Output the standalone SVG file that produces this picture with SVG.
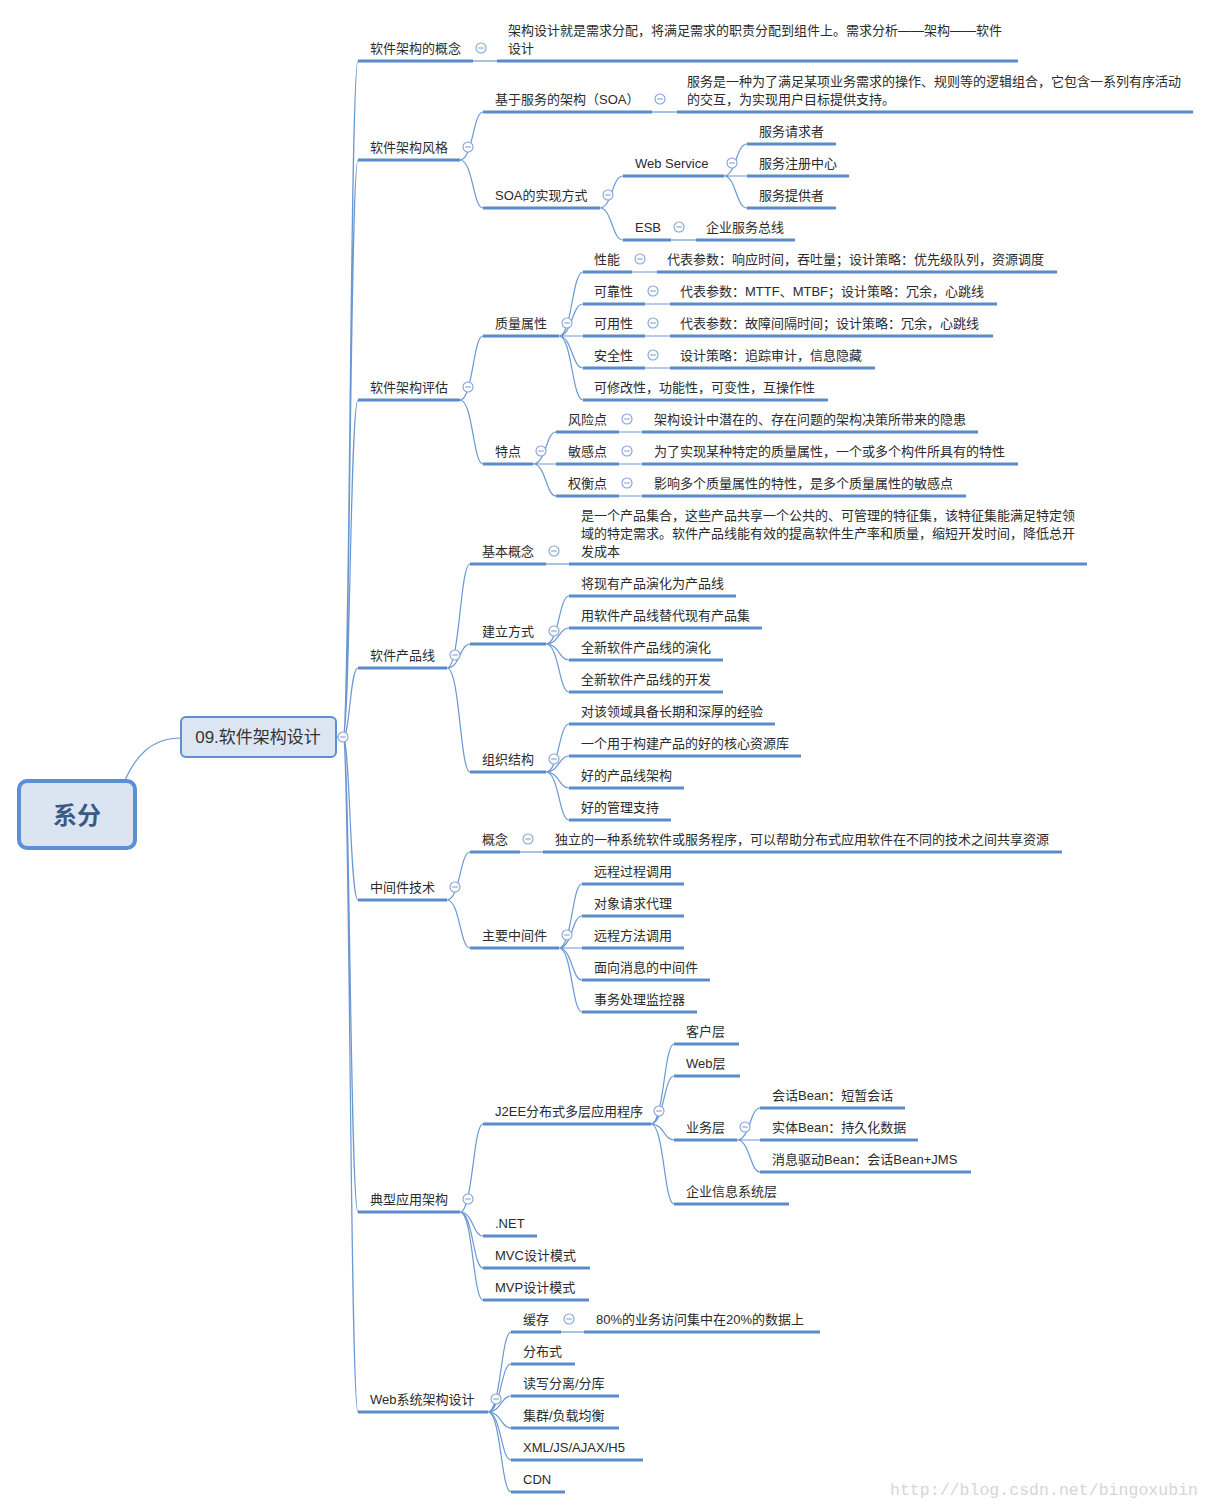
<svg xmlns="http://www.w3.org/2000/svg" xmlns:xlink="http://www.w3.org/1999/xlink" width="1211" height="1509" viewBox="0 0 1211 1509">
<defs>
<style>
.t{font-family:"Liberation Sans","Noto Sans CJK SC",sans-serif;font-size:13px;fill:#2b2b2b}
.u{stroke:#5b8bcb;stroke-width:3;fill:none}
.c{stroke:#6b98d3;stroke-width:1.2;fill:none}
.tg circle{fill:#fff;stroke:#7ea2d8;stroke-width:1.1}
.tg line{stroke:#7ea2d8;stroke-width:1.1}
</style>
<g id="tog" class="tg"><circle cx="0" cy="0" r="5"/><line x1="-2.8" y1="0" x2="2.8" y2="0"/></g>
</defs>
<rect width="1211" height="1509" fill="#fff"/>

<g id="connectors">
<path class="c" d="M125 780 C135 758 150 738 181 738"/>
<path class="c" d="M336 737 H343 C350 737 350 61 358 61 M343 737 C350 737 350 160 358 160 M343 737 C350 737 350 400 358 400 M343 737 C350 737 350 668 358 668 M343 737 C350 737 350 900 358 900 M343 737 C350 737 350 1212 358 1212 M343 737 C350 737 350 1412 358 1412"/>
<path class="c" d="M473 61 H497"/>
<path class="c" d="M460 160 C473 160 473 112 483 112 M460 160 C473 160 473 208 483 208"/>
<path class="c" d="M652 112 H677"/>
<path class="c" d="M600 208 C612 208 612 176 623 176 M600 208 C612 208 612 240 623 240"/>
<path class="c" d="M724 176 C736 176 736 144 747 144 M724 176 H747 M724 176 C736 176 736 208 747 208"/>
<path class="c" d="M671 240 H696"/>
<path class="c" d="M460 400 C473 400 473 336 483 336 M460 400 C473 400 473 464 483 464"/>
<path class="c" d="M559 336 C572 336 572 272 583 272 M559 336 C572 336 572 304 583 304 M559 336 H583 M559 336 C572 336 572 368 583 368 M559 336 C572 336 572 400 583 400"/>
<path class="c" d="M632 272 H657 M645 304 H670 M645 336 H670 M645 368 H670"/>
<path class="c" d="M533 464 C546 464 546 432 556 432 M533 464 H556 M533 464 C546 464 546 496 556 496"/>
<path class="c" d="M619 432 H642 M619 464 H642 M619 496 H642"/>
<path class="c" d="M447 668 C460 668 460 564 470 564 M447 668 C460 668 460 644 470 644 M447 668 C460 668 460 772 470 772"/>
<path class="c" d="M546 564 H569"/>
<path class="c" d="M546 644 C559 644 559 596 569 596 M546 644 C559 644 559 628 569 628 M546 644 C559 644 559 660 569 660 M546 644 C559 644 559 692 569 692"/>
<path class="c" d="M546 772 C559 772 559 724 569 724 M546 772 C559 772 559 756 569 756 M546 772 C559 772 559 788 569 788 M546 772 C559 772 559 820 569 820"/>
<path class="c" d="M447 900 C460 900 460 852 470 852 M447 900 C460 900 460 948 470 948"/>
<path class="c" d="M520 852 H543"/>
<path class="c" d="M559 948 C572 948 572 884 582 884 M559 948 C572 948 572 916 582 916 M559 948 H582 M559 948 C572 948 572 980 582 980 M559 948 C572 948 572 1012 582 1012"/>
<path class="c" d="M460 1212 C473 1212 473 1124 483 1124 M460 1212 C473 1212 473 1236 483 1236 M460 1212 C473 1212 473 1268 483 1268 M460 1212 C473 1212 473 1300 483 1300"/>
<path class="c" d="M651 1124 C664 1124 664 1044 674 1044 M651 1124 C664 1124 664 1076 674 1076 M651 1124 C664 1124 664 1140 674 1140 M651 1124 C664 1124 664 1204 674 1204"/>
<path class="c" d="M737 1140 C750 1140 750 1108 760 1108 M737 1140 H760 M737 1140 C750 1140 750 1172 760 1172"/>
<path class="c" d="M488 1412 C501 1412 501 1332 511 1332 M488 1412 C501 1412 501 1364 511 1364 M488 1412 C501 1412 501 1396 511 1396 M488 1412 C501 1412 501 1428 511 1428 M488 1412 C501 1412 501 1460 511 1460 M488 1412 C501 1412 501 1492 511 1492"/>
<path class="c" d="M561 1332 H584"/>
</g>

<g id="root">
<rect x="19" y="781" width="116" height="67" rx="8" fill="#dbe5f1" stroke="#5b8fd6" stroke-width="4"/>
<text x="77" y="824" text-anchor="middle" font-family="'Liberation Sans','Noto Sans CJK SC',sans-serif" font-size="24" font-weight="bold" fill="#3b5a82">系分</text>
</g>
<g id="main">
<rect x="181" y="717" width="155" height="40" rx="5" fill="#dce6f2" stroke="#5b8fd6" stroke-width="2"/>
<text x="258" y="743" text-anchor="middle" font-family="'Liberation Sans','Noto Sans CJK SC',sans-serif" font-size="17" fill="#333">09.软件架构设计</text>
<use xlink:href="#tog" x="343" y="737"/>
</g>

<g id="n-concept">
<line class="u" x1="358" y1="61" x2="473" y2="61"/><text class="t" x="370" y="53">软件架构的概念</text><use xlink:href="#tog" x="481" y="48"/>
</g>
<g id="n-concept-def">
<line class="u" x1="497" y1="61" x2="1018" y2="61"/><text class="t" x="508" y="35">架构设计就是需求分配，将满足需求的职责分配到组件上。需求分析——架构——软件</text><text class="t" x="508" y="53">设计</text>
</g>

<g id="n-style">
<line class="u" x1="358" y1="160" x2="460" y2="160"/><text class="t" x="370" y="152">软件架构风格</text><use xlink:href="#tog" x="468" y="147"/>
</g>
<g id="n-soa">
<line class="u" x1="483" y1="112" x2="652" y2="112"/><text class="t" x="495" y="104">基于服务的架构（SOA）</text><use xlink:href="#tog" x="660" y="99"/>
</g>
<g id="n-soa-def">
<line class="u" x1="677" y1="112" x2="1193" y2="112"/><text class="t" x="687" y="86">服务是一种为了满足某项业务需求的操作、规则等的逻辑组合，它包含一系列有序活动</text><text class="t" x="687" y="104">的交互，为实现用户目标提供支持。</text>
</g>
<g id="n-soa-impl">
<line class="u" x1="483" y1="208" x2="600" y2="208"/><text class="t" x="495" y="200">SOA的实现方式</text><use xlink:href="#tog" x="608" y="195"/>
</g>
<g id="n-ws">
<line class="u" x1="623" y1="176" x2="724" y2="176"/><text class="t" x="635" y="168">Web Service</text><use xlink:href="#tog" x="732" y="163"/>
</g>
<g id="n-ws1"><line class="u" x1="747" y1="144" x2="836" y2="144"/><text class="t" x="759" y="136">服务请求者</text></g>
<g id="n-ws2"><line class="u" x1="747" y1="176" x2="849" y2="176"/><text class="t" x="759" y="168">服务注册中心</text></g>
<g id="n-ws3"><line class="u" x1="747" y1="208" x2="836" y2="208"/><text class="t" x="759" y="200">服务提供者</text></g>
<g id="n-esb">
<line class="u" x1="623" y1="240" x2="671" y2="240"/><text class="t" x="635" y="232">ESB</text><use xlink:href="#tog" x="679" y="227"/>
</g>
<g id="n-esb1"><line class="u" x1="696" y1="240" x2="795" y2="240"/><text class="t" x="706" y="232">企业服务总线</text></g>

<g id="n-eval">
<line class="u" x1="358" y1="400" x2="460" y2="400"/><text class="t" x="370" y="392">软件架构评估</text><use xlink:href="#tog" x="468" y="387"/>
</g>
<g id="n-qa">
<line class="u" x1="483" y1="336" x2="559" y2="336"/><text class="t" x="495" y="328">质量属性</text><use xlink:href="#tog" x="567" y="323"/>
</g>
<g id="n-qa1"><line class="u" x1="583" y1="272" x2="632" y2="272"/><text class="t" x="594" y="264">性能</text><use xlink:href="#tog" x="640" y="259"/></g>
<g id="n-qa1d"><line class="u" x1="657" y1="272" x2="1057" y2="272"/><text class="t" x="667" y="264">代表参数：响应时间，吞吐量；设计策略：优先级队列，资源调度</text></g>
<g id="n-qa2"><line class="u" x1="583" y1="304" x2="645" y2="304"/><text class="t" x="594" y="296">可靠性</text><use xlink:href="#tog" x="653" y="291"/></g>
<g id="n-qa2d"><line class="u" x1="670" y1="304" x2="997" y2="304"/><text class="t" x="680" y="296">代表参数：MTTF、MTBF；设计策略：冗余，心跳线</text></g>
<g id="n-qa3"><line class="u" x1="583" y1="336" x2="645" y2="336"/><text class="t" x="594" y="328">可用性</text><use xlink:href="#tog" x="653" y="323"/></g>
<g id="n-qa3d"><line class="u" x1="670" y1="336" x2="993" y2="336"/><text class="t" x="680" y="328">代表参数：故障间隔时间；设计策略：冗余，心跳线</text></g>
<g id="n-qa4"><line class="u" x1="583" y1="368" x2="645" y2="368"/><text class="t" x="594" y="360">安全性</text><use xlink:href="#tog" x="653" y="355"/></g>
<g id="n-qa4d"><line class="u" x1="670" y1="368" x2="875" y2="368"/><text class="t" x="680" y="360">设计策略：追踪审计，信息隐藏</text></g>
<g id="n-qa5"><line class="u" x1="583" y1="400" x2="828" y2="400"/><text class="t" x="594" y="392">可修改性，功能性，可变性，互操作性</text></g>
<g id="n-feat">
<line class="u" x1="483" y1="464" x2="533" y2="464"/><text class="t" x="495" y="456">特点</text><use xlink:href="#tog" x="541" y="451"/>
</g>
<g id="n-f1"><line class="u" x1="556" y1="432" x2="619" y2="432"/><text class="t" x="568" y="424">风险点</text><use xlink:href="#tog" x="627" y="419"/></g>
<g id="n-f1d"><line class="u" x1="642" y1="432" x2="978" y2="432"/><text class="t" x="654" y="424">架构设计中潜在的、存在问题的架构决策所带来的隐患</text></g>
<g id="n-f2"><line class="u" x1="556" y1="464" x2="619" y2="464"/><text class="t" x="568" y="456">敏感点</text><use xlink:href="#tog" x="627" y="451"/></g>
<g id="n-f2d"><line class="u" x1="642" y1="464" x2="1018" y2="464"/><text class="t" x="654" y="456">为了实现某种特定的质量属性，一个或多个构件所具有的特性</text></g>
<g id="n-f3"><line class="u" x1="556" y1="496" x2="619" y2="496"/><text class="t" x="568" y="488">权衡点</text><use xlink:href="#tog" x="627" y="483"/></g>
<g id="n-f3d"><line class="u" x1="642" y1="496" x2="966" y2="496"/><text class="t" x="654" y="488">影响多个质量属性的特性，是多个质量属性的敏感点</text></g>

<g id="n-spl">
<line class="u" x1="358" y1="668" x2="447" y2="668"/><text class="t" x="370" y="660">软件产品线</text><use xlink:href="#tog" x="455" y="655"/>
</g>
<g id="n-spl1"><line class="u" x1="470" y1="564" x2="546" y2="564"/><text class="t" x="482" y="556">基本概念</text><use xlink:href="#tog" x="554" y="551"/></g>
<g id="n-spl1d"><line class="u" x1="569" y1="564" x2="1087" y2="564"/><text class="t" x="581" y="520">是一个产品集合，这些产品共享一个公共的、可管理的特征集，该特征集能满足特定领</text><text class="t" x="581" y="538">域的特定需求。软件产品线能有效的提高软件生产率和质量，缩短开发时间，降低总开</text><text class="t" x="581" y="556">发成本</text></g>
<g id="n-spl2"><line class="u" x1="470" y1="644" x2="546" y2="644"/><text class="t" x="482" y="636">建立方式</text><use xlink:href="#tog" x="554" y="631"/></g>
<g id="n-spl2a"><line class="u" x1="569" y1="596" x2="736" y2="596"/><text class="t" x="581" y="588">将现有产品演化为产品线</text></g>
<g id="n-spl2b"><line class="u" x1="569" y1="628" x2="762" y2="628"/><text class="t" x="581" y="620">用软件产品线替代现有产品集</text></g>
<g id="n-spl2c"><line class="u" x1="569" y1="660" x2="723" y2="660"/><text class="t" x="581" y="652">全新软件产品线的演化</text></g>
<g id="n-spl2d"><line class="u" x1="569" y1="692" x2="723" y2="692"/><text class="t" x="581" y="684">全新软件产品线的开发</text></g>
<g id="n-spl3"><line class="u" x1="470" y1="772" x2="546" y2="772"/><text class="t" x="482" y="764">组织结构</text><use xlink:href="#tog" x="554" y="759"/></g>
<g id="n-spl3a"><line class="u" x1="569" y1="724" x2="775" y2="724"/><text class="t" x="581" y="716">对该领域具备长期和深厚的经验</text></g>
<g id="n-spl3b"><line class="u" x1="569" y1="756" x2="801" y2="756"/><text class="t" x="581" y="748">一个用于构建产品的好的核心资源库</text></g>
<g id="n-spl3c"><line class="u" x1="569" y1="788" x2="684" y2="788"/><text class="t" x="581" y="780">好的产品线架构</text></g>
<g id="n-spl3d"><line class="u" x1="569" y1="820" x2="671" y2="820"/><text class="t" x="581" y="812">好的管理支持</text></g>

<g id="n-mw">
<line class="u" x1="358" y1="900" x2="447" y2="900"/><text class="t" x="370" y="892">中间件技术</text><use xlink:href="#tog" x="455" y="887"/>
</g>
<g id="n-mw1"><line class="u" x1="470" y1="852" x2="520" y2="852"/><text class="t" x="482" y="844">概念</text><use xlink:href="#tog" x="528" y="839"/></g>
<g id="n-mw1d"><line class="u" x1="543" y1="852" x2="1062" y2="852"/><text class="t" x="555" y="844">独立的一种系统软件或服务程序，可以帮助分布式应用软件在不同的技术之间共享资源</text></g>
<g id="n-mw2"><line class="u" x1="470" y1="948" x2="559" y2="948"/><text class="t" x="482" y="940">主要中间件</text><use xlink:href="#tog" x="567" y="935"/></g>
<g id="n-mw2a"><line class="u" x1="582" y1="884" x2="684" y2="884"/><text class="t" x="594" y="876">远程过程调用</text></g>
<g id="n-mw2b"><line class="u" x1="582" y1="916" x2="684" y2="916"/><text class="t" x="594" y="908">对象请求代理</text></g>
<g id="n-mw2c"><line class="u" x1="582" y1="948" x2="684" y2="948"/><text class="t" x="594" y="940">远程方法调用</text></g>
<g id="n-mw2d"><line class="u" x1="582" y1="980" x2="710" y2="980"/><text class="t" x="594" y="972">面向消息的中间件</text></g>
<g id="n-mw2e"><line class="u" x1="582" y1="1012" x2="697" y2="1012"/><text class="t" x="594" y="1004">事务处理监控器</text></g>

<g id="n-arch">
<line class="u" x1="358" y1="1212" x2="460" y2="1212"/><text class="t" x="370" y="1204">典型应用架构</text><use xlink:href="#tog" x="468" y="1199"/>
</g>
<g id="n-j2ee"><line class="u" x1="483" y1="1124" x2="651" y2="1124"/><text class="t" x="495" y="1116">J2EE分布式多层应用程序</text><use xlink:href="#tog" x="659" y="1111"/></g>
<g id="n-j1"><line class="u" x1="674" y1="1044" x2="739" y2="1044"/><text class="t" x="686" y="1036">客户层</text></g>
<g id="n-j2"><line class="u" x1="674" y1="1076" x2="740" y2="1076"/><text class="t" x="686" y="1068">Web层</text></g>
<g id="n-j3"><line class="u" x1="674" y1="1140" x2="737" y2="1140"/><text class="t" x="686" y="1132">业务层</text><use xlink:href="#tog" x="745" y="1127"/></g>
<g id="n-j3a"><line class="u" x1="760" y1="1108" x2="905" y2="1108"/><text class="t" x="772" y="1100">会话Bean：短暂会话</text></g>
<g id="n-j3b"><line class="u" x1="760" y1="1140" x2="918" y2="1140"/><text class="t" x="772" y="1132">实体Bean：持久化数据</text></g>
<g id="n-j3c"><line class="u" x1="760" y1="1172" x2="971" y2="1172"/><text class="t" x="772" y="1164">消息驱动Bean：会话Bean+JMS</text></g>
<g id="n-j4"><line class="u" x1="674" y1="1204" x2="789" y2="1204"/><text class="t" x="686" y="1196">企业信息系统层</text></g>
<g id="n-net"><line class="u" x1="483" y1="1236" x2="537" y2="1236"/><text class="t" x="495" y="1228">.NET</text></g>
<g id="n-mvc"><line class="u" x1="483" y1="1268" x2="590" y2="1268"/><text class="t" x="495" y="1260">MVC设计模式</text></g>
<g id="n-mvp"><line class="u" x1="483" y1="1300" x2="589" y2="1300"/><text class="t" x="495" y="1292">MVP设计模式</text></g>

<g id="n-web">
<line class="u" x1="358" y1="1412" x2="488" y2="1412"/><text class="t" x="370" y="1404">Web系统架构设计</text><use xlink:href="#tog" x="496" y="1399"/>
</g>
<g id="n-w1"><line class="u" x1="511" y1="1332" x2="561" y2="1332"/><text class="t" x="523" y="1324">缓存</text><use xlink:href="#tog" x="569" y="1319"/></g>
<g id="n-w1d"><line class="u" x1="584" y1="1332" x2="820" y2="1332"/><text class="t" x="596" y="1324">80%的业务访问集中在20%的数据上</text></g>
<g id="n-w2"><line class="u" x1="511" y1="1364" x2="575" y2="1364"/><text class="t" x="523" y="1356">分布式</text></g>
<g id="n-w3"><line class="u" x1="511" y1="1396" x2="619" y2="1396"/><text class="t" x="523" y="1388">读写分离/分库</text></g>
<g id="n-w4"><line class="u" x1="511" y1="1428" x2="619" y2="1428"/><text class="t" x="523" y="1420">集群/负载均衡</text></g>
<g id="n-w5"><line class="u" x1="511" y1="1460" x2="643" y2="1460"/><text class="t" x="523" y="1452">XML/JS/AJAX/H5</text></g>
<g id="n-w6"><line class="u" x1="511" y1="1492" x2="565" y2="1492"/><text class="t" x="523" y="1484">CDN</text></g>

<text x="890" y="1495" font-family="'Liberation Mono',monospace" font-size="16.5" fill="#d6d6d6" textLength="308">http://blog.csdn.net/bingoxubin</text>
</svg>
